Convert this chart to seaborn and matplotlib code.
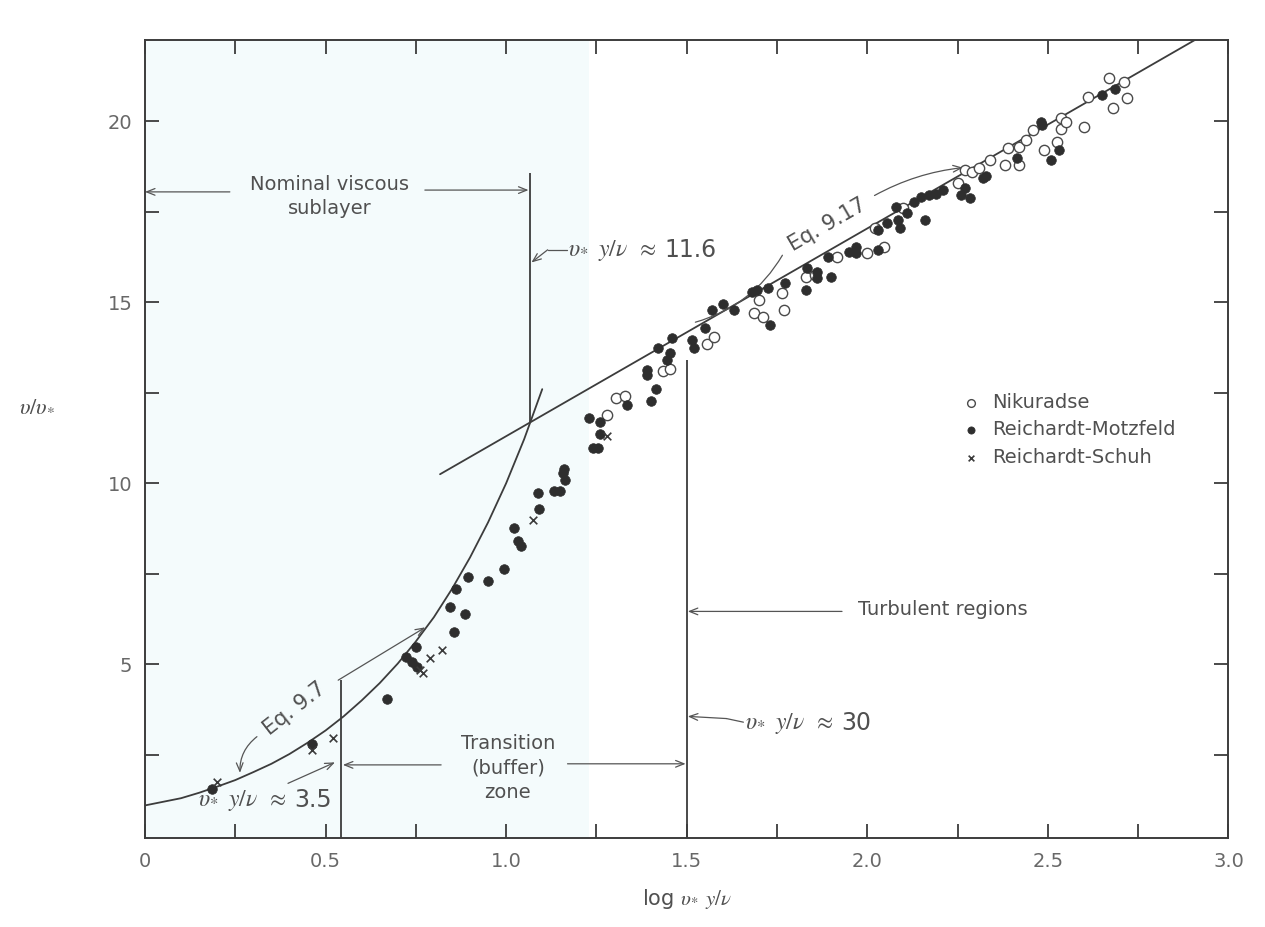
import numpy as np
import pandas as pd
import matplotlib
matplotlib.use("Agg")
import matplotlib.pyplot as plt
import seaborn as sns

# ---------------- data ----------------
# Nikuradse (open circles)
nik_x = [1.28, 1.305, 1.33, 1.435, 1.455, 1.555, 1.575, 1.685, 1.71, 1.70, 1.765, 1.77,
         1.83, 1.855, 1.915, 2.00, 2.045, 2.02, 2.10, 2.25, 2.27, 2.29, 2.31, 2.34, 2.38,
         2.42, 2.39, 2.42, 2.44, 2.46, 2.525, 2.49, 2.535, 2.535, 2.55, 2.60, 2.61, 2.68,
         2.67, 2.71, 2.72]
nik_y = [11.9, 12.35, 12.4, 13.1, 13.15, 13.85, 14.05, 14.7, 14.6, 15.05, 15.25, 14.78,
         15.69, 15.75, 16.24, 16.35, 16.52, 17.04, 17.6, 18.29, 18.65, 18.6, 18.7, 18.92, 18.78,
         18.78, 19.25, 19.28, 19.48, 19.75, 19.42, 19.2, 19.8, 20.1, 19.97, 19.83, 20.66, 20.36,
         21.2, 21.08, 20.64]

# Reichardt-Motzfeld (filled dots)
rm_x = [0.186, 0.463, 0.67, 0.723, 0.75, 0.74, 0.753, 0.856, 0.845, 0.886, 0.862, 0.895,
        0.95, 0.995, 1.022, 1.033, 1.04, 1.088, 1.09, 1.133, 1.15, 1.16, 1.158, 1.163,
        1.24, 1.255, 1.26, 1.23, 1.26, 1.335, 1.40, 1.415, 1.39, 1.39, 1.445, 1.455, 1.42,
        1.46, 1.515, 1.52, 1.55, 1.57, 1.60, 1.63, 1.68, 1.695, 1.726, 1.73, 1.773, 1.83,
        1.833, 1.86, 1.86, 1.90, 1.89, 1.95, 1.97, 1.97, 2.03, 2.03, 2.055, 2.09, 2.085,
        2.08, 2.11, 2.13, 2.15, 2.16, 2.17, 2.19, 2.21, 2.26, 2.285, 2.27, 2.32, 2.33,
        2.415, 2.48, 2.485, 2.53, 2.51, 2.65, 2.687]
rm_y = [1.55, 2.8, 4.03, 5.2, 5.47, 5.05, 4.92, 5.9, 6.57, 6.4, 7.07, 7.4,
        7.3, 7.62, 8.76, 8.4, 8.26, 9.72, 9.3, 9.78, 9.78, 10.4, 10.28, 10.08,
        10.97, 10.97, 11.35, 11.8, 11.7, 12.15, 12.27, 12.6, 13.0, 13.12, 13.4, 13.6, 13.75,
        14.0, 13.95, 13.75, 14.3, 14.8, 14.95, 14.8, 15.28, 15.33, 15.39, 14.36, 15.52, 15.33,
        15.94, 15.83, 15.66, 15.69, 16.24, 16.38, 16.52, 16.35, 16.44, 16.99, 17.18, 17.04, 17.26,
        17.62, 17.46, 17.76, 17.9, 17.27, 17.96, 18.0, 18.09, 17.96, 17.87, 18.15, 18.42, 18.5,
        18.98, 19.97, 19.89, 19.2, 18.92, 20.72, 20.88]

# Reichardt-Schuh (crosses)
rs_x = [0.20, 0.463, 0.52, 0.762, 0.77, 0.79, 0.823, 1.075, 1.28]
rs_y = [1.74, 2.62, 2.96, 4.83, 4.75, 5.17, 5.39, 8.98, 11.3]

# Eq. 9.7 (viscous sublayer curve)
visc_x = [0.0, 0.05, 0.1, 0.15, 0.2, 0.25, 0.3, 0.35, 0.4, 0.45, 0.5, 0.55,
          0.6, 0.65, 0.7, 0.75, 0.8, 0.85, 0.9, 0.95, 1.0, 1.05, 1.1]
visc_y = [1.1, 1.2, 1.3, 1.45, 1.62, 1.8, 2.02, 2.25, 2.52, 2.83, 3.17, 3.56,
          4.0, 4.48, 5.02, 5.63, 6.3, 7.08, 7.95, 8.92, 10.0, 11.22, 12.6]

# Eq. 9.17 (log law line) end points
log_x = [0.817, 2.96]
log_y = [10.25, 22.55]

# vertical boundary lines
vl_x = [0.544, 1.066, 1.5]
vl_y0 = [0.0, 11.7, 0.0]
vl_y1 = [4.56, 18.56, 13.4]

x_ticks = [0.0, 0.5, 1.0, 1.5, 2.0, 2.5, 3.0]
x_tick_labels = ["0", "0.5", "1.0", "1.5", "2.0", "2.5", "3.0"]
y_ticks = [5, 10, 15, 20]
y_tick_labels = ["5", "10", "15", "20"]

# ---------------- drawing ----------------
sns.set_theme(style="ticks")
plt.rcParams["font.family"] = ["DejaVu Sans"]
plt.rcParams["mathtext.fontset"] = "stix"

LINE = "#3c3c3c"
TXT = "#505050"

fig = plt.figure(figsize=(12.65, 9.27), dpi=100)
ax = fig.add_axes([0.1146, 0.096, 0.8565, 0.861])

ax.axvspan(0, 1.23, color="#f4fbfc", zorder=0, lw=0)

curves = pd.DataFrame({"x": visc_x, "y": visc_y})
sns.lineplot(data=curves, x="x", y="y", ax=ax, color=LINE, lw=1.3, sort=False, zorder=3)
loglaw = pd.DataFrame({"x": log_x, "y": log_y})
sns.lineplot(data=loglaw, x="x", y="y", ax=ax, color=LINE, lw=1.3, sort=False, zorder=3)

ax.vlines(vl_x, vl_y0, vl_y1, color=LINE, lw=1.3, zorder=3)

sns.scatterplot(x=nik_x, y=nik_y, ax=ax, marker="o", s=55, color="white",
                edgecolor="#4a4a4a", linewidth=1.0, label="Nikuradse", zorder=4)
sns.scatterplot(x=rm_x, y=rm_y, ax=ax, marker="o", s=48, color="#2e2e2e",
                edgecolor="#2e2e2e", linewidth=0.5, label="Reichardt-Motzfeld", zorder=5)
sns.scatterplot(x=rs_x, y=rs_y, ax=ax, marker="x", s=30, color="#3a3a3a",
                linewidth=1.2, label="Reichardt-Schuh", zorder=5)

ax.set_xlim(0, 3.0)
ax.set_ylim(0.2, 22.25)

ax.set_xticks(x_ticks)
ax.set_xticklabels(x_tick_labels)
ax.set_xticks(np.arange(0.25, 3.0, 0.5), minor=True)
ax.set_yticks(y_ticks)
ax.set_yticklabels(y_tick_labels)
ax.set_yticks([2.5, 7.5, 12.5, 17.5], minor=True)
ax.tick_params(which="both", direction="in", length=10, width=1.3, top=True, right=True,
               color=LINE, labelsize=14, labelcolor="#686868")
ax.tick_params(axis="x", which="both", pad=10)
ax.tick_params(axis="y", which="both", pad=9)
for sp in ax.spines.values():
    sp.set_color(LINE)
    sp.set_linewidth(1.4)

ax.set_xlabel(r"log $\upsilon_{*}\;\, y/\nu$", fontsize=15, color=TXT)
ax.xaxis.set_label_coords(0.5, -0.062)
ax.set_ylabel(r"$\upsilon/\upsilon_{*}$", fontsize=16, color=TXT, rotation=0)
ax.yaxis.set_label_coords(-0.1, 0.53)

# legend
h, l = ax.get_legend_handles_labels()
leg = ax.legend(h, l, loc="upper left", bbox_to_anchor=(0.7534, 0.558), frameon=False,
                fontsize=14, handlelength=1.0, handletextpad=0.6, labelspacing=0.45,
                borderpad=0, borderaxespad=0, markerscale=0.75)
for t in leg.get_texts():
    t.set_color(TXT)

arrow = dict(arrowstyle="->,head_length=0.5,head_width=0.2", color="#555555", lw=0.9,
             shrinkA=0, shrinkB=0)
plain = dict(arrowstyle="-", color="#555555", lw=0.9, shrinkA=0, shrinkB=0)

MATH = r"$\upsilon_{*}\;\; y/\nu\;\; \approx$"


def label_with_number(x, y, number):
    t = ax.text(x, y, MATH, ha="left", va="center", fontsize=17, color=TXT)
    fig.canvas.draw()
    bb = t.get_window_extent(renderer=fig.canvas.get_renderer())
    x1 = ax.transData.inverted().transform((bb.x1 + 8, bb.y0))[0]
    ax.text(x1, y, number, ha="left", va="center", fontsize=17, color=TXT)


# Nominal viscous sublayer
ax.text(0.512, 18.25, "Nominal viscous", ha="center", va="center", fontsize=14, color=TXT)
ax.text(0.512, 17.6, "sublayer", ha="center", va="center", fontsize=14, color=TXT)
ax.annotate("", xy=(0.0, 18.05), xytext=(0.235, 18.05), arrowprops=arrow)
ax.annotate("", xy=(1.062, 18.1), xytext=(0.775, 18.1), arrowprops=arrow)

# u* y/nu = 11.6
label_with_number(1.172, 16.44, "11.6")
ax.plot([1.168, 1.115], [16.45, 16.45], color="#555555", lw=0.9)
ax.annotate("", xy=(1.07, 16.1), xytext=(1.115, 16.45), arrowprops=arrow)

# Eq. 9.17
ax.text(1.89, 17.15, "Eq. 9.17", ha="center", va="center", rotation=30,
        rotation_mode="anchor", fontsize=15, color=TXT)
ax.annotate("", xy=(1.524, 14.45), xytext=(1.765, 16.3),
            arrowprops=dict(plain, connectionstyle="arc3,rad=-0.2"))
ax.annotate("", xy=(2.265, 18.72), xytext=(2.02, 17.95),
            arrowprops=dict(arrow, connectionstyle="arc3,rad=-0.1"))

# Eq. 9.7
ax.text(0.413, 3.78, "Eq. 9.7", ha="center", va="center", rotation=38,
        rotation_mode="anchor", fontsize=15, color=TXT)
ax.annotate("", xy=(0.776, 6.02), xytext=(0.535, 4.56), arrowprops=arrow)
ax.annotate("", xy=(0.263, 2.0), xytext=(0.31, 3.0),
            arrowprops=dict(arrow, connectionstyle="arc3,rad=0.25"))

# u* y/nu = 3.5
label_with_number(0.147, 1.24, "3.5")
ax.annotate("", xy=(0.526, 2.29), xytext=(0.396, 1.71), arrowprops=arrow)

# Transition (buffer) zone
ax.text(1.005, 2.13, "Transition\n(buffer)\nzone", ha="center", va="center",
        fontsize=14, color=TXT, linespacing=1.35)
ax.annotate("", xy=(0.548, 2.22), xytext=(0.82, 2.22), arrowprops=arrow)
ax.annotate("", xy=(1.497, 2.25), xytext=(1.17, 2.25), arrowprops=arrow)

# Turbulent regions
ax.text(1.975, 6.5, "Turbulent regions", ha="left", va="center", fontsize=14, color=TXT)
ax.annotate("", xy=(1.503, 6.46), xytext=(1.93, 6.46), arrowprops=arrow)

# u* y/nu = 30
label_with_number(1.662, 3.37, "30")
ax.plot([1.657, 1.61], [3.4, 3.5], color="#555555", lw=0.9)
ax.annotate("", xy=(1.503, 3.56), xytext=(1.61, 3.5), arrowprops=arrow)

fig.savefig("out.png", dpi=100, facecolor="white")
